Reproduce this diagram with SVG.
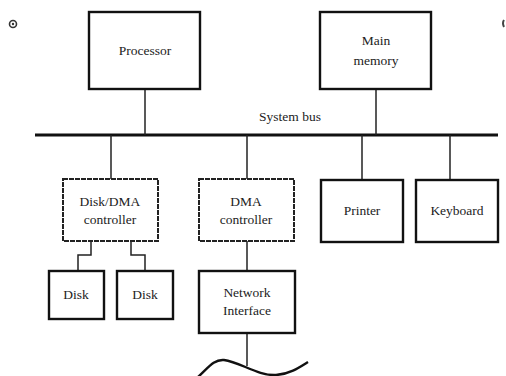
<svg xmlns="http://www.w3.org/2000/svg" width="506" height="376" viewBox="0 0 506 376">
<style>
.box{fill:#fff;stroke:#111;stroke-width:2.4}
.dbox{fill:#fff;stroke:#222;stroke-width:2;stroke-dasharray:5 1}
.ln{fill:none;stroke:#222;stroke-width:1.5}
text{font-family:"Liberation Serif","Times New Roman",serif;font-size:13.5px;fill:#222;text-anchor:middle}
</style>
<rect width="506" height="376" fill="#fff"/>
<g id="marks">
<circle cx="13" cy="24" r="3.5" fill="none" stroke="#333" stroke-width="1.6"/>
<circle cx="13" cy="24" r="1.2" fill="#333"/>
<path d="M504,20 Q502,23 504,27" fill="none" stroke="#444" stroke-width="2"/>
</g>
<g id="connectors">
<line x1="35" y1="135" x2="498" y2="135" stroke="#111" stroke-width="3.2"/>
<line class="ln" x1="145" y1="89" x2="145" y2="135"/>
<line class="ln" x1="376" y1="89" x2="376" y2="135"/>
<line class="ln" x1="111" y1="135" x2="111" y2="179"/>
<line class="ln" x1="247" y1="135" x2="247" y2="179"/>
<line class="ln" x1="362" y1="135" x2="362" y2="180"/>
<line class="ln" x1="450" y1="135" x2="450" y2="180"/>
<polyline class="ln" points="91,241 91,255 78,255 78,271"/>
<polyline class="ln" points="131,241 131,255 145,255 145,271"/>
<line class="ln" x1="247" y1="241" x2="247" y2="271"/>
<line class="ln" x1="247" y1="333" x2="247" y2="366"/>
<path d="M198,377 C208,368 214,359 224,360 C240,362 258,376 276,375 C290,374 300,367 308,362" fill="none" stroke="#111" stroke-width="2.4"/>
</g>
<g id="processor">
<rect class="box" x="89" y="12" width="111" height="77"/>
<text x="145" y="55">Processor</text>
</g>
<g id="main-memory">
<rect class="box" x="320" y="12" width="111" height="77"/>
<text x="376" y="45">Main</text>
<text x="376" y="65">memory</text>
</g>
<g id="system-bus-label">
<text x="290" y="121">System bus</text>
</g>
<g id="disk-dma-controller">
<rect class="dbox" x="63" y="179" width="95" height="62"/>
<text x="110" y="206">Disk/DMA</text>
<text x="110" y="224">controller</text>
</g>
<g id="dma-controller">
<rect class="dbox" x="199" y="179" width="95" height="62"/>
<text x="246" y="206">DMA</text>
<text x="246" y="224">controller</text>
</g>
<g id="printer">
<rect class="box" x="321" y="180" width="82" height="62"/>
<text x="362" y="215">Printer</text>
</g>
<g id="keyboard">
<rect class="box" x="416" y="180" width="82" height="62"/>
<text x="457" y="215">Keyboard</text>
</g>
<g id="disk1">
<rect class="box" x="49" y="271" width="55" height="48"/>
<text x="76" y="299">Disk</text>
</g>
<g id="disk2">
<rect class="box" x="117" y="271" width="56" height="48"/>
<text x="145" y="299">Disk</text>
</g>
<g id="network-interface">
<rect class="box" x="199" y="271" width="96" height="62"/>
<text x="247" y="297">Network</text>
<text x="247" y="315">Interface</text>
</g>
</svg>
